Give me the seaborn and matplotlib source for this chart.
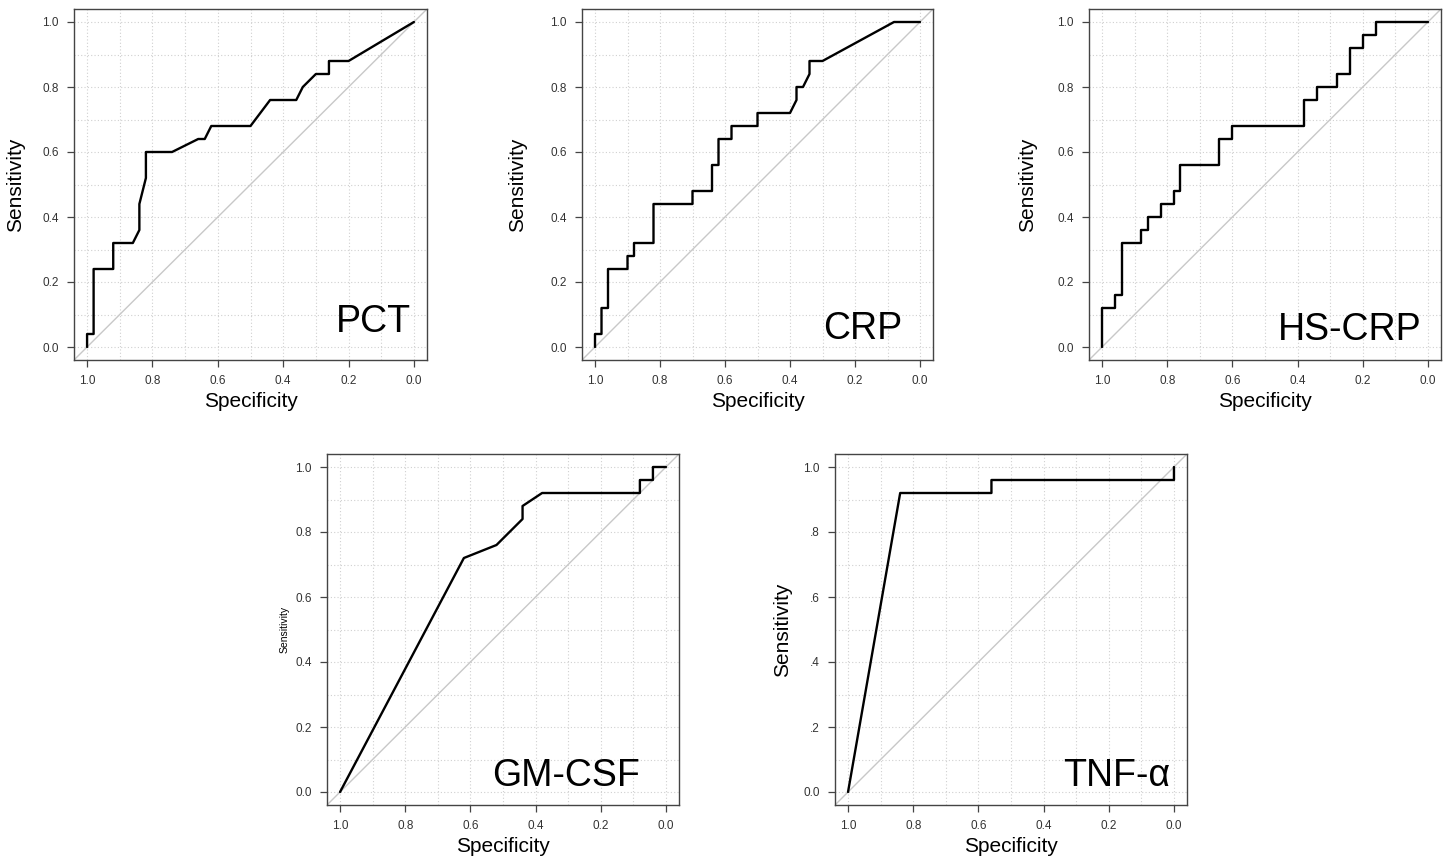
import numpy as np
import pandas as pd
import seaborn as sb
import matplotlib.pyplot as plt


# ROC curve points (specificity, sensitivity)
pct_spec = [1.0, 1.0, 0.98, 0.98, 0.92, 0.92, 0.86, 0.84, 0.84, 0.82, 0.82, 0.74, 0.66, 0.64, 0.62, 0.50, 0.44, 0.36, 0.34, 0.30, 0.26, 0.26, 0.20, 0.0]
pct_sens = [0.0, 0.04, 0.04, 0.24, 0.24, 0.32, 0.32, 0.36, 0.44, 0.52, 0.60, 0.60, 0.64, 0.64, 0.68, 0.68, 0.76, 0.76, 0.80, 0.84, 0.84, 0.88, 0.88, 1.0]

crp_spec = [1.0, 1.0, 0.98, 0.98, 0.96, 0.96, 0.90, 0.90, 0.88, 0.88, 0.82, 0.82, 0.70, 0.70, 0.64, 0.64, 0.62, 0.62, 0.58, 0.58, 0.50, 0.50, 0.40, 0.38, 0.38, 0.36, 0.34, 0.34, 0.30, 0.08, 0.0]
crp_sens = [0.0, 0.04, 0.04, 0.12, 0.12, 0.24, 0.24, 0.28, 0.28, 0.32, 0.32, 0.44, 0.44, 0.48, 0.48, 0.56, 0.56, 0.64, 0.64, 0.68, 0.68, 0.72, 0.72, 0.76, 0.80, 0.80, 0.84, 0.88, 0.88, 1.0, 1.0]

hscrp_spec = [1.0, 1.0, 0.96, 0.96, 0.94, 0.94, 0.88, 0.88, 0.86, 0.86, 0.82, 0.82, 0.78, 0.78, 0.76, 0.76, 0.64, 0.64, 0.60, 0.60, 0.38, 0.38, 0.34, 0.34, 0.28, 0.28, 0.24, 0.24, 0.20, 0.20, 0.16, 0.16, 0.0]
hscrp_sens = [0.0, 0.12, 0.12, 0.16, 0.16, 0.32, 0.32, 0.36, 0.36, 0.40, 0.40, 0.44, 0.44, 0.48, 0.48, 0.56, 0.56, 0.64, 0.64, 0.68, 0.68, 0.76, 0.76, 0.80, 0.80, 0.84, 0.84, 0.92, 0.92, 0.96, 0.96, 1.0, 1.0]

gmcsf_spec = [1.0, 0.62, 0.52, 0.44, 0.44, 0.38, 0.08, 0.08, 0.04, 0.04, 0.0]
gmcsf_sens = [0.0, 0.72, 0.76, 0.84, 0.88, 0.92, 0.92, 0.96, 0.96, 1.0, 1.0]

tnf_spec = [1.0, 0.84, 0.56, 0.56, 0.0, 0.0]
tnf_sens = [0.0, 0.92, 0.92, 0.96, 0.96, 1.0]

markers = ["PCT", "CRP", "HS-CRP", "GM-CSF", "TNF-\u03b1"]
curves = [(pct_spec, pct_sens), (crp_spec, crp_sens), (hscrp_spec, hscrp_sens),
          (gmcsf_spec, gmcsf_sens), (tnf_spec, tnf_sens)]

tick_vals = [0.0, 0.2, 0.4, 0.6, 0.8, 1.0]
tick_labels = ["0.0", "0.2", "0.4", "0.6", "0.8", "1.0"]
tnf_ytick_labels = ["0.0", ".2", ".4", ".6", ".8", "1.0"]

sb.set_theme(style="white")
plt.rcParams['font.family'] = ['Liberation Sans', 'DejaVu Sans']

W, H = 1445, 861
fig = plt.figure(figsize=(W / 100, H / 100), dpi=100, facecolor='w')

# axes boxes in pixels (left, top, right, bottom)
boxes = [(74, 9, 427, 360), (582, 9, 933, 360), (1089, 9, 1441, 360),
         (327, 454, 679, 805), (835, 454, 1187, 805)]
ylab_x = [-0.139, -0.157, -0.148, -0.105, -0.122]
ylab_size = [15, 15, 15, 7.5, 15]
name_pos = [(0.01, 0.046), (0.055, 0.025), (0.018, 0.02), (0.08, 0.02), (0.012, 0.02)]

for i, (name, (spec, sens)) in enumerate(zip(markers, curves)):
    x0, y0, x1, y1 = boxes[i]
    ax = fig.add_axes([x0 / W, 1 - y1 / H, (x1 - x0) / W, (y1 - y0) / H])
    oData = pd.DataFrame({"Specificity": spec, "Sensitivity": sens})

    # grid every 0.1
    for g in np.arange(0, 1.01, 0.1):
        ax.axvline(g, color="#d0d0d0", lw=0.8, ls=(0, (1, 2)), zorder=0)
        ax.axhline(g, color="#d0d0d0", lw=0.8, ls=(0, (1, 2)), zorder=0)
    ax.axline((1, 0), (0, 1), color="#c8c8c8", lw=1.0, zorder=1)

    sb.lineplot(data=oData, x="Specificity", y="Sensitivity", sort=False,
                estimator=None, color="black", lw=1.7, ax=ax, zorder=3)

    ax.set_xlim(1.04, -0.04)
    ax.set_ylim(-0.04, 1.04)
    ax.set_xticks(tick_vals)
    ax.set_xticklabels(tick_labels)
    ax.set_yticks(tick_vals)
    ax.set_yticklabels(tnf_ytick_labels if i == 4 else tick_labels)
    ax.tick_params(direction="out", length=5, width=0.9, color="#444444",
                   labelsize=8.5, labelcolor="#333333", pad=6,
                   bottom=True, left=True)
    for sp in ax.spines.values():
        sp.set_color("#444444")
        sp.set_linewidth(1.0)

    ax.set_xlabel("Specificity", fontsize=15, color="black")
    ax.set_ylabel("Sensitivity", fontsize=ylab_size[i], color="black")
    ax.xaxis.set_label_coords(0.5, -0.09)
    ax.yaxis.set_label_coords(ylab_x[i], 0.5)
    ax.text(name_pos[i][0], name_pos[i][1], name, fontsize=27,
            ha="right", va="baseline", color="black", zorder=4)

fig.savefig("out.png", dpi=100)
